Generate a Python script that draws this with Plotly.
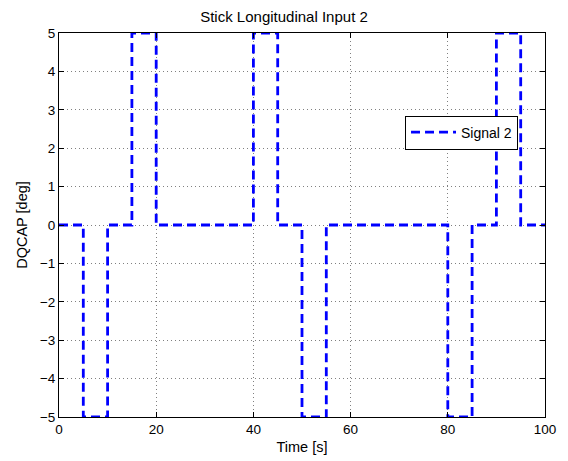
import plotly.graph_objects as go

time_s = [0, 5, 5, 10, 10, 15, 15, 20, 20, 40, 40, 45, 45, 50, 50, 55, 55, 80, 80, 85, 85, 90, 90, 95, 95, 100]
dqcap_deg = [0, 0, -5, -5, 0, 0, 5, 5, 0, 0, 5, 5, 0, 0, -5, -5, 0, 0, -5, -5, 0, 0, 5, 5, 0, 0]
x_ticks = [0, 20, 40, 60, 80, 100]
y_ticks = [-5, -4, -3, -2, -1, 0, 1, 2, 3, 4, 5]

font = "Liberation Sans, Arial, sans-serif"
fig = go.Figure()
fig.add_trace(go.Scatter(x=time_s, y=dqcap_deg, mode="lines", name="Signal 2",
                         line=dict(color="#0000ff", width=2.8, dash="9px,5px")))

axis_common = dict(showline=True, linecolor="black", linewidth=1, mirror="ticks",
                   ticks="inside", ticklen=5, tickcolor="black",
                   showgrid=True, gridcolor="#808080", griddash="1px,3px", gridwidth=1,
                   zeroline=False, automargin=False,
                   tickfont=dict(family=font, size=13.5, color="black"))

fig.update_layout(
    width=568, height=461,
    margin=dict(l=59, r=23, t=33, b=44),
    paper_bgcolor="white", plot_bgcolor="white",
    title=dict(text="Stick Longitudinal Input 2", x=0.5, xanchor="center", y=0.975, yanchor="top",
               font=dict(family=font, size=15, color="black")),
    xaxis=dict(range=[0, 100], tickvals=x_ticks,
               title=dict(text="Time [s]", font=dict(family=font, size=14.5, color="black"), standoff=5),
               **axis_common),
    yaxis=dict(range=[-5, 5], tickvals=y_ticks,
               ticktext=[("\u2212" + str(-v)) if v < 0 else str(v) for v in y_ticks],
               title=dict(text="DQCAP [deg]", font=dict(family=font, size=14.5, color="black"), standoff=8),
               **axis_common),
    showlegend=True,
    legend=dict(x=0.712, y=0.785, xanchor="left", yanchor="top",
                bgcolor="white", bordercolor="black", borderwidth=1,
                font=dict(family=font, size=14, color="black"),
                itemwidth=45, tracegroupgap=0),
    font=dict(family=font),
)

fig.write_html("out.html")
